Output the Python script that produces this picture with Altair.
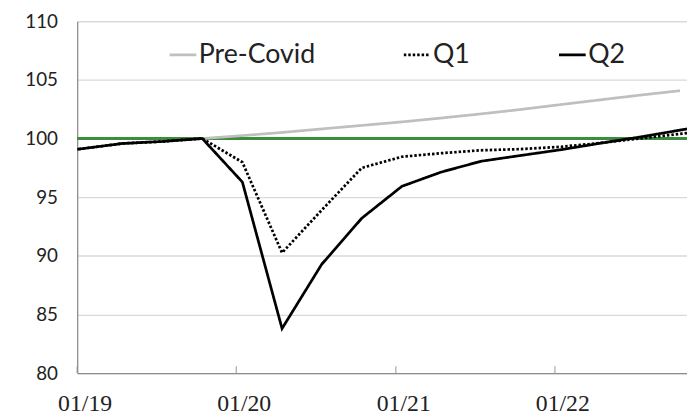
import altair as alt
import pandas as pd

# ---- data ----
dates = ["2018-10-15", "2019-01-15", "2019-04-15", "2019-07-15", "2019-10-15",
         "2020-01-15", "2020-04-15", "2020-07-15", "2020-10-15",
         "2021-01-15", "2021-04-15", "2021-07-15", "2021-10-15",
         "2022-01-15", "2022-04-15", "2022-07-15", "2022-10-15", "2023-01-15"]
q1 = [98.72, 99.15, 99.58, 99.75, 100.0, 97.98, 90.26, 93.9, 97.5,
      98.45, 98.75, 99.0, 99.1, 99.3, 99.62, 100.0, 100.4, 100.8]
q2 = [98.72, 99.15, 99.58, 99.75, 100.0, 96.29, 83.8, 89.28, 93.21,
      95.93, 97.14, 98.06, 98.56, 99.05, 99.6, 100.13, 100.72, 101.3]
pre_dates = ["2019-10-15", "2020-01-15", "2020-04-15", "2020-07-15", "2020-10-15",
             "2021-01-15", "2021-04-15", "2021-07-15", "2021-10-15",
             "2022-01-15", "2022-04-15", "2022-07-15", "2022-10-15"]
pre_covid = [100.0, 100.25, 100.52, 100.82, 101.12, 101.42, 101.75, 102.1,
             102.48, 102.9, 103.3, 103.7, 104.08]
series_names = ["Pre-Covid", "Q1", "Q2"]
series_colors = ["#BFBFBF", "#000000", "#000000"]
series_dash = [[1, 0], [2.5, 2], [1, 0]]
tick_dates = ["2019-01-01", "2020-01-01", "2021-01-01", "2022-01-01"]
x_start, x_end = "2019-01-01", "2022-10-31"
y_min, y_max = 80, 110
y_ticks = [80, 85, 90, 95, 100, 105, 110]
ref_level = [100]


def dt(s):
    y, m, d = map(int, s.split("-"))
    return alt.DateTime(year=y, month=m, date=d, utc=True)


rows = []
for d, v in zip(pre_dates, pre_covid):
    rows.append({"date": d, "value": v, "series": "Pre-Covid"})
for d, v in zip(dates, q1):
    rows.append({"date": d, "value": v, "series": "Q1"})
for d, v in zip(dates, q2):
    rows.append({"date": d, "value": v, "series": "Q2"})
df = pd.DataFrame(rows)

x_scale = alt.Scale(type="utc", domain=[dt(x_start), dt(x_end)])
y_scale = alt.Scale(domain=[y_min, y_max], nice=False, zero=False)

FONT_Y = "Lato"
FONT_X = "Liberation Sans Narrow"


def legend():
    return alt.Legend(title=None, orient="none", legendX=92, legendY=19,
                      direction="horizontal", symbolType="stroke",
                      symbolSize=729, symbolStrokeWidth=2.75,
                      labelFont=FONT_Y, labelFontSize=27,
                      labelColor="#222222", labelOffset=1,
                      columnPadding=84, padding=0)


ref = alt.Chart(pd.DataFrame({"v": ref_level})).mark_rule(
    color="#3C8C3C", strokeWidth=3
).encode(
    y=alt.Y("v:Q", scale=y_scale,
            axis=alt.Axis(values=y_ticks, title=None, grid=True, gridColor="#D9D9D9",
                          gridWidth=1.3, ticks=False, tickSize=0, labelPadding=20,
                          labelFont=FONT_Y, labelFontSize=19, labelColor="#222222",
                          domainColor="#8C8C8C", domainWidth=1.3))
)

lines = alt.Chart(df).mark_line(strokeWidth=2.75, clip=True).encode(
    x=alt.X("date:T", scale=x_scale,
            axis=alt.Axis(values=[dt(t) for t in tick_dates], format="%m/%y", title=None,
                          grid=False, ticks=False, tickSize=0, labelPadding=19,
                          labelOffset=7.5, labelFlush=False, labelOverlap=False,
                          labelFont=FONT_X, labelFontSize=24, labelColor="#222222",
                          domainColor="#8C8C8C", domainWidth=1.3)),
    y=alt.Y("value:Q", scale=y_scale),
    color=alt.Color("series:N",
                    scale=alt.Scale(domain=series_names, range=series_colors),
                    legend=legend()),
    strokeDash=alt.StrokeDash("series:N",
                              scale=alt.Scale(domain=series_names, range=series_dash),
                              legend=legend()),
)

ticks = alt.Chart(pd.DataFrame({"t": tick_dates})).mark_tick(
    orient="vertical", size=7, thickness=1.3, yOffset=-3.5, color="#8C8C8C"
).encode(
    x=alt.X("t:T", scale=x_scale),
    y=alt.datum(y_min),
)

chart = alt.layer(ref, lines, ticks).properties(
    width=617, height=356,
    padding={"left": 70, "top": 11, "right": 0, "bottom": 44},
    autosize="none",
    background="white",
).configure_view(stroke=None)

chart.save("out.html", embed_options={"renderer": "svg", "actions": False})
